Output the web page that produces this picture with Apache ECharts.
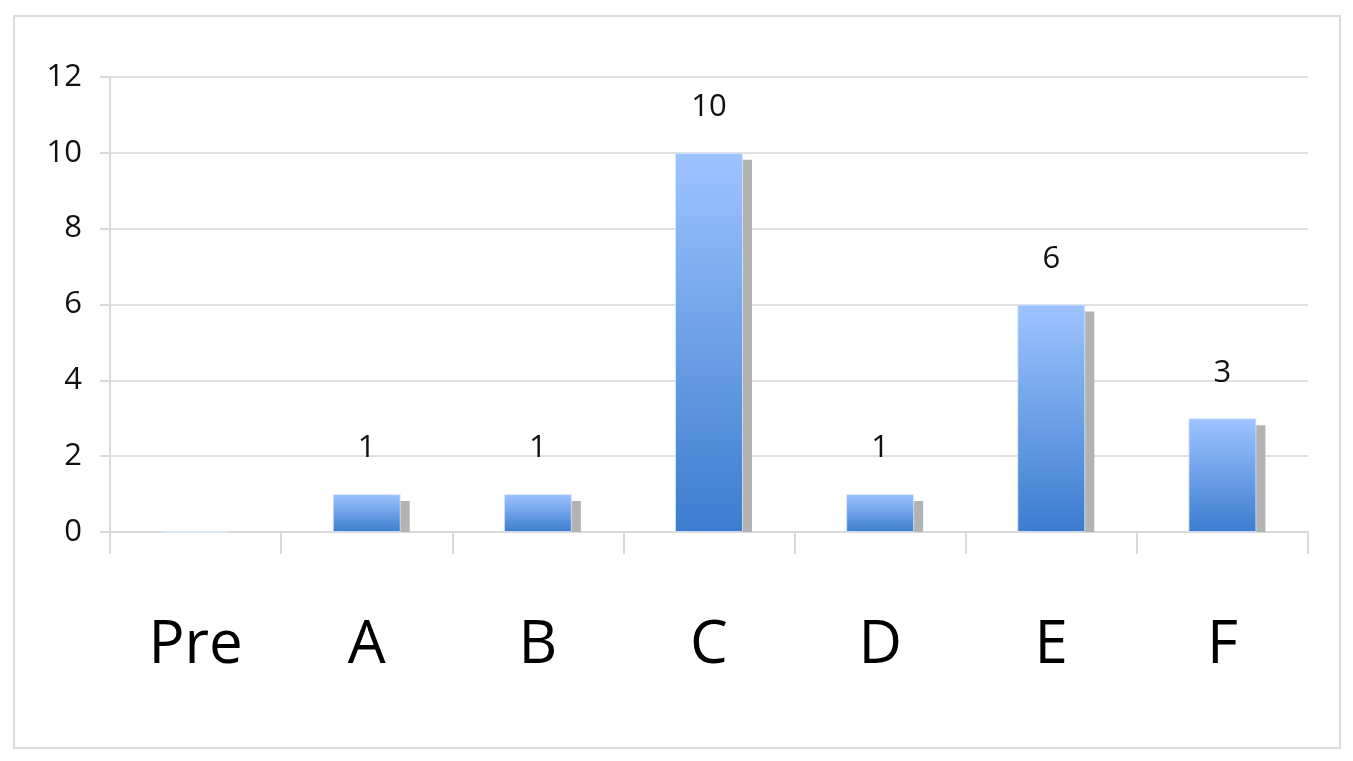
<!DOCTYPE html>
<html>
<head>
<meta charset="utf-8">
<script src="https://cdn.jsdelivr.net/npm/echarts@6/dist/echarts.min.js"></script>
<style>
html,body{margin:0;padding:0;background:#fff;}
#wrap{position:relative;width:1353px;height:761px;}
#chart{position:absolute;left:0;top:0;width:1353px;height:761px;}
#frame{position:absolute;left:13px;top:15px;width:1324px;height:730px;border:2px solid #dcdcdc;pointer-events:none;}
</style>
</head>
<body>
<div id="wrap"><div id="chart"></div><div id="frame"></div></div>
<script>
const categories = ['Pre', 'A', 'B', 'C', 'D', 'E', 'F'];
const values = [0, 1, 1, 10, 1, 6, 3];
const yMin = 0, yMax = 12, yInterval = 2;

const BAR_W = 68;
const chart = echarts.init(document.getElementById('chart'), null, {renderer: 'canvas'});
const shadowData = categories.map((c, i) => [i, values[i]]);

chart.setOption({
  animation: false,
  backgroundColor: '#ffffff',
  grid: {left: 110, right: 45, top: 77, bottom: 229, containLabel: false},
  xAxis: {
    type: 'category',
    data: categories,
    boundaryGap: true,
    axisLine: {show: true, lineStyle: {color: '#d9d9d9', width: 2}},
    axisTick: {show: true, alignWithLabel: false, length: 22, lineStyle: {color: '#d9d9d9', width: 2}},
    axisLabel: {fontFamily: 'Open Sans', fontSize: 60, color: '#000', margin: 84}
  },
  yAxis: {
    type: 'value',
    min: yMin, max: yMax, interval: yInterval,
    axisLine: {show: true, lineStyle: {color: '#d9d9d9', width: 2}},
    axisTick: {show: true, length: 10, lineStyle: {color: '#d9d9d9', width: 2}},
    splitLine: {show: true, lineStyle: {color: '#e0e0e0', width: 2}},
    axisLabel: {fontFamily: 'Open Sans', fontSize: 31, color: '#111', margin: 28}
  },
  series: [
    {
      type: 'custom',
      z: 1,
      data: shadowData,
      encode: {x: 0, y: 1},
      renderItem: function (params, api) {
        const v = api.value(1);
        if (!v) return null;
        const top = api.coord([api.value(0), v]);
        const base = api.coord([api.value(0), 0]);
        return {
          type: 'rect',
          shape: {x: top[0] - BAR_W / 2 + 9, y: top[1] + 7, width: BAR_W, height: base[1] - top[1] - 7},
          style: {fill: '#b3b3b3'}
        };
      }
    },
    {
      type: 'bar',
      z: 2,
      data: values,
      barWidth: BAR_W,
      itemStyle: {
        color: new echarts.graphic.LinearGradient(0, 0, 0, 1, [
          {offset: 0, color: '#9ec4ff'},
          {offset: 1, color: '#3c7ccf'}
        ]),
        borderColor: 'rgba(220,232,255,0.8)',
        borderWidth: 1
      },
      label: {
        show: true,
        position: 'top',
        distance: 30,
        fontFamily: 'Open Sans',
        fontSize: 31,
        color: '#111',
        formatter: p => (p.value ? String(p.value) : '')
      }
    }
  ]
});
</script>
</body>
</html>
